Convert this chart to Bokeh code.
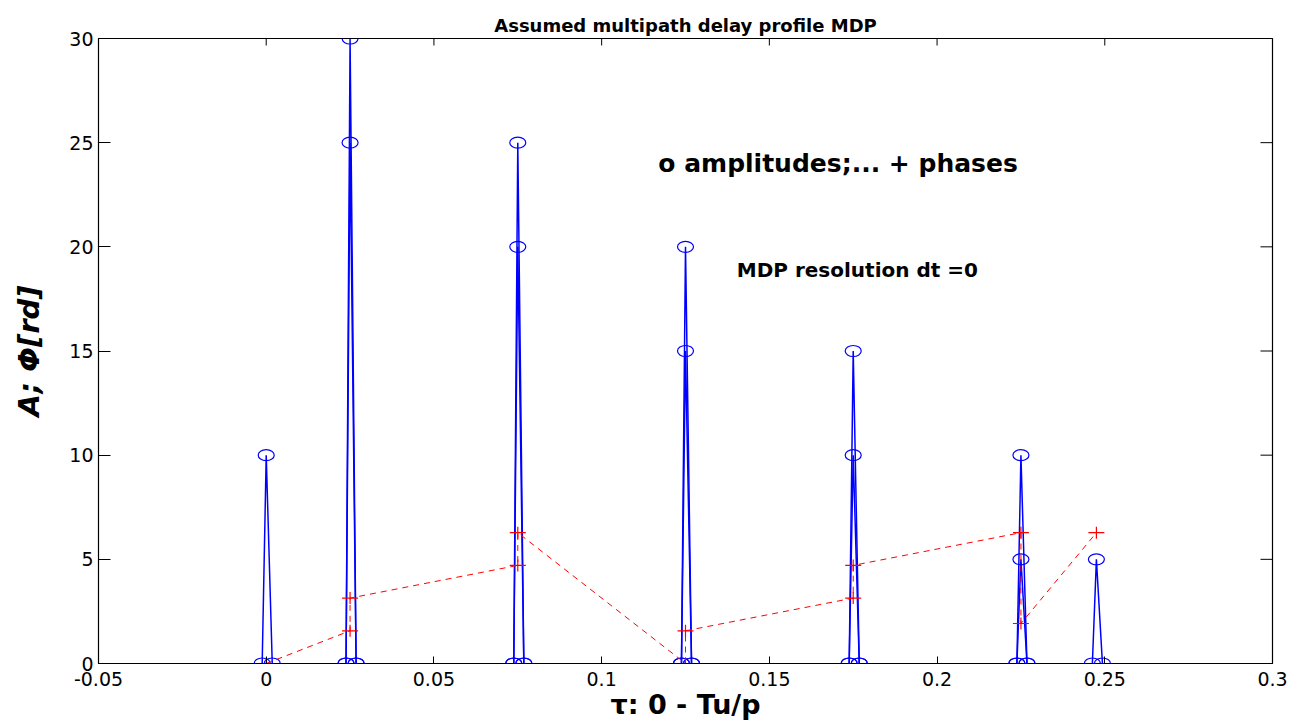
import math
from bokeh.plotting import figure
from bokeh.models import LinearAxis, FixedTicker, Range1d, Label, Title
from bokeh.embed import file_html
from bokeh.resources import INLINE

# ---- data ----
taus = [0.0, 0.025, 0.025, 0.075, 0.075, 0.125, 0.125, 0.175, 0.175, 0.225, 0.225, 0.2475]
amplitudes = [10, 30, 25, 25, 20, 20, 15, 15, 10, 10, 5, 5]
phases = [0.0, 1.57, 3.14, 4.71, 6.28, 0.0, 1.57, 3.14, 4.71, 6.28, 1.92, 6.28]
x_ticks = [-0.05, 0, 0.05, 0.1, 0.15, 0.2, 0.25, 0.3]
x_tick_labels = ["-0.05", "0", "0.05", "0.1", "0.15", "0.2", "0.25", "0.3"]
y_ticks = [0, 5, 10, 15, 20, 25, 30]

X_MIN, X_MAX = -0.05, 0.3
Y_MIN, Y_MAX = 0, 30

# each path drawn as a narrow triangle: base-left, peak, base-right
left_off = 0.0012
right_off = 0.0018
tri_xs, tri_ys, amp_x, amp_y = [], [], [], []
for t, a in zip(taus, amplitudes):
    xs = [t - left_off, t, t + right_off]
    ys = [0, a, 0]
    tri_xs.append(xs)
    tri_ys.append(ys)
    amp_x += xs
    amp_y += ys

FONT = "DejaVu Sans"

p = figure(width=1303, height=725, output_backend="svg", toolbar_location=None,
           x_range=Range1d(X_MIN, X_MAX), y_range=Range1d(Y_MIN, Y_MAX),
           x_axis_type=None, y_axis_type=None,
           min_border_left=98, min_border_right=31, min_border_top=38, min_border_bottom=62)
p.background_fill_color = "white"
p.border_fill_color = "white"
p.outline_line_color = "black"
p.outline_line_width = 1.2
p.xgrid.visible = False
p.ygrid.visible = False

def make_axis(ticks, labels, tick_len):
    ax = LinearAxis(ticker=FixedTicker(ticks=ticks))
    if labels is not None:
        ax.major_label_overrides = {t: l for t, l in zip(ticks, labels)}
    ax.major_tick_in = tick_len
    ax.major_tick_out = 0
    ax.minor_tick_in = 0
    ax.minor_tick_out = 0
    ax.axis_line_color = "black"
    ax.major_tick_line_color = "black"
    ax.major_label_text_font = FONT
    ax.major_label_text_color = "black"
    ax.major_label_text_font_size = "19px"
    return ax

xb = make_axis(x_ticks, x_tick_labels, 7)
xb.major_label_standoff = 8
xb.axis_label = "\u03c4: 0 - Tu/p"
xb.axis_label_text_font = FONT
xb.axis_label_text_font_style = "bold"
xb.axis_label_text_font_size = "27px"
xb.axis_label_text_color = "black"
xb.axis_label_standoff = 0
p.add_layout(xb, "below")

yl = make_axis(y_ticks, None, 12)
yl.major_label_standoff = 5
yl.axis_label = "A; \u03a6[rd]"
yl.axis_label_text_font = FONT
yl.axis_label_text_font_style = "bold italic"
yl.axis_label_text_font_size = "29px"
yl.axis_label_text_color = "black"
yl.axis_label_standoff = 20
p.add_layout(yl, "left")

# mirrored inward ticks on top and right edges (clipped to the frame)
p.scatter(x_ticks, [Y_MAX] * len(x_ticks), marker="dash", size=14, angle=math.pi / 2,
          line_color="black", line_width=1)
p.scatter([X_MAX] * len(y_ticks), y_ticks, marker="dash", size=24,
          line_color="black", line_width=1)

p.add_layout(Title(text="Assumed multipath delay profile MDP", text_font=FONT,
                   text_font_style="bold", text_font_size="18px", align="center",
                   text_color="black", offset=0, standoff=5), "above")

# amplitude profile
p.multi_line(tri_xs, tri_ys, line_color="#0000ff", line_width=1.5)
p.ellipse(amp_x, amp_y, width=16, height=11, width_units="screen", height_units="screen",
          fill_color=None, line_color="#0000ff", line_width=1.2)

# phases
p.line(taus, phases, line_color="#ff0000", line_width=1, line_dash="6 5")
p.rect(taus, phases, width=16, height=1.2, width_units="screen", height_units="screen",
       fill_color="#ff0000", line_color=None)
p.rect(taus, phases, width=1.2, height=12, width_units="screen", height_units="screen",
       fill_color="#ff0000", line_color=None)

p.add_layout(Label(x=0.1169, y=24.0, text="o amplitudes;... + phases", text_font=FONT,
                   text_font_style="bold", text_font_size="25px", text_baseline="middle",
                   text_color="black"))
p.add_layout(Label(x=0.1403, y=18.87, text="MDP resolution dt =0", text_font=FONT,
                   text_font_style="bold", text_font_size="20px", text_baseline="middle",
                   text_color="black"))

open("out.html", "w").write(file_html(p, INLINE))
